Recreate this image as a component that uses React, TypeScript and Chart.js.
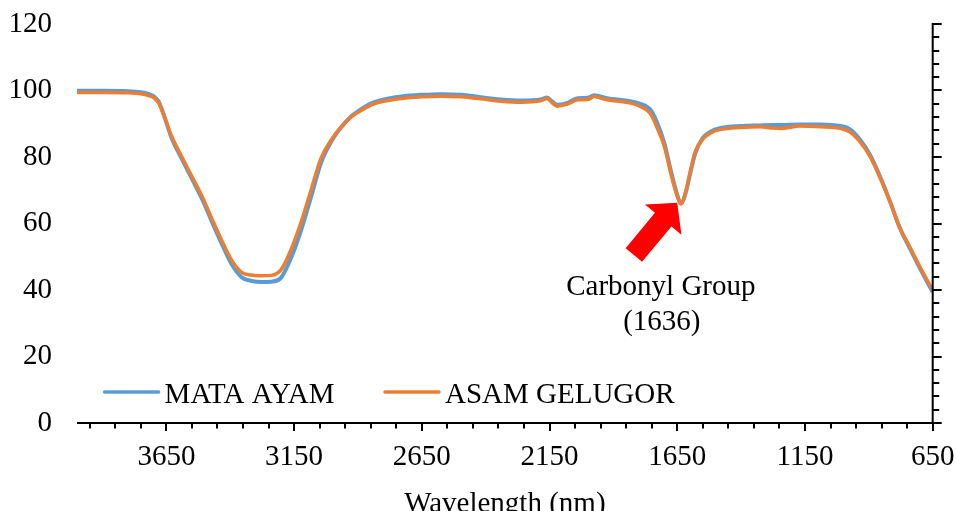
import React, { useEffect, useRef } from "react";
import { Chart, registerables } from "chart.js";

Chart.register(...registerables);

// Wavenumber positions of the read-off samples
const wavenumbers = [
  4000, 3900, 3800, 3750, 3720, 3700, 3680, 3655, 3630, 3590, 3550, 3510, 3470, 3435, 3395, 3355,
  3320, 3280, 3240, 3200, 3160, 3120, 3080, 3045, 3005, 2965, 2925, 2885, 2850, 2810, 2730, 2650,
  2575, 2495, 2420, 2340, 2260, 2185, 2160, 2140, 2120, 2080, 2040, 2000, 1975, 1925, 1845, 1795,
  1755, 1730, 1700, 1675, 1650, 1636, 1618, 1598, 1580, 1552, 1520, 1480, 1400, 1325, 1275, 1245,
  1170, 1090, 1010, 975, 935, 895, 855, 815, 780, 740, 700, 650,
];

const mataAyam = [
  99.9, 99.9, 99.8, 99.5, 99.0, 98.3, 96.6, 91.5, 85.8, 79.5, 73.4, 67.3, 60.2, 54.2, 47.8, 43.8,
  42.8, 42.4, 42.5, 43.8, 50.0, 58.6, 69.0, 78.2, 84.6, 89.0, 92.3, 94.5, 96.1, 97.1, 98.2, 98.7,
  98.9, 98.7, 98.0, 97.3, 97.0, 97.3, 97.9, 96.7, 95.7, 96.3, 97.7, 97.8, 98.6, 97.7, 96.9, 96.0,
  94.2, 90.5, 84.0, 75.8, 68.6, 66.0, 69.0, 75.5, 81.0, 85.5, 87.6, 88.7, 89.3, 89.5, 89.6, 89.6,
  89.8, 89.8, 89.3, 88.4, 85.3, 80.6, 73.9, 66.2, 58.9, 52.6, 46.5, 39.4,
];

const asamGelugor = [
  99.4, 99.4, 99.3, 99.0, 98.5, 97.9, 96.2, 91.5, 86.3, 80.1, 74.1, 68.1, 61.1, 55.2, 49.0, 45.3,
  44.5, 44.3, 44.4, 46.2, 52.5, 61.0, 71.0, 79.6, 85.1, 89.1, 92.1, 94.1, 95.6, 96.6, 97.6, 98.1,
  98.3, 98.1, 97.5, 96.8, 96.5, 96.9, 97.6, 96.3, 95.3, 95.9, 97.2, 97.3, 98.2, 97.2, 96.4, 95.2,
  93.0, 89.0, 83.0, 75.0, 68.2, 65.9, 69.2, 76.0, 81.5, 85.2, 87.2, 88.3, 88.9, 89.1, 88.7, 88.6,
  89.3, 89.1, 88.6, 87.6, 84.6, 80.1, 73.6, 66.1, 59.0, 53.0, 47.0, 40.0,
];

const seriesNames = ["MATA AYAM", "ASAM GELUGOR"];
const seriesColors = ["#5B9BD5", "#ED7D31"];
const xTickLabels = [650, 1150, 1650, 2150, 2650, 3150, 3650];
const xMinorStep = 100;
const xMin = 650;
const xMax = 4000;
const yMin = 0;
const yMax = 120;
const yStep = 20;
const yMinorStep = 4;
const axisTitle = "Wavelength (nm)";
const annotationLines = ["Carbonyl Group", "(1636)"];
const carbonylPeak = 1636;
const carbonylValue = 65.9;

const FONT = "'Liberation Serif', 'Times New Roman', serif";
const FONT_SIZE = 29;

const decorPlugin = {
  id: "decor",
  afterDraw(chart: any) {
    const ctx = chart.ctx;
    const xs = chart.scales.x;
    const ys = chart.scales.y;
    const area = chart.chartArea;
    ctx.save();
    ctx.strokeStyle = "#000";
    ctx.lineWidth = 2;
    // x axis line
    ctx.beginPath();
    ctx.moveTo(area.left, area.bottom);
    ctx.lineTo(area.right + 1, area.bottom);
    ctx.stroke();
    // right axis line
    ctx.beginPath();
    ctx.moveTo(area.right, area.top - 1);
    ctx.lineTo(area.right, area.bottom);
    ctx.stroke();
    // x ticks (major + minor)
    for (let v = xMin; v < xMax; v += xMinorStep) {
      const px = Math.round(xs.getPixelForValue(v));
      const major = (v - xMin) % 500 === 0;
      ctx.beginPath();
      ctx.moveTo(px, area.bottom);
      ctx.lineTo(px, area.bottom + (major ? 8 : 5.5));
      ctx.stroke();
    }
    // right axis ticks
    for (let v = yMin; v <= yMax; v += yMinorStep) {
      const py = Math.round(ys.getPixelForValue(v));
      const major = v % yStep === 0;
      ctx.beginPath();
      ctx.moveTo(area.right, py);
      ctx.lineTo(area.right + (major ? 9 : 6.5), py);
      ctx.stroke();
    }
    // axis title
    ctx.fillStyle = "#000";
    ctx.font = `${FONT_SIZE}px ${FONT}`;
    ctx.textAlign = "center";
    ctx.textBaseline = "alphabetic";
    ctx.fillText(axisTitle, (area.left + area.right) / 2, 512);

    // legend (inside plot, lower left)
    const legY = 392;
    const legItems = [
      { x: 104.6, text: seriesNames[0], color: seriesColors[0] },
      { x: 385, text: seriesNames[1], color: seriesColors[1] },
    ];
    ctx.lineCap = "round";
    for (const it of legItems) {
      ctx.strokeStyle = it.color;
      ctx.lineWidth = 3.5;
      ctx.beginPath();
      ctx.moveTo(it.x, legY);
      ctx.lineTo(it.x + 54, legY);
      ctx.stroke();
      ctx.fillStyle = "#000";
      ctx.textAlign = "left";
      ctx.textBaseline = "alphabetic";
      ctx.fillText(it.text, it.x + 60, 402.5);
    }

    // annotation arrow anchored to the carbonyl peak
    const peakX = xs.getPixelForValue(carbonylPeak);
    const peakY = ys.getPixelForValue(carbonylValue);
    const tx = peakX - 3.6;
    const ty = peakY - 1.2;
    const ux = 0.638, uy = -0.769;
    const nx = 0.769, ny = 0.638;
    const cx = tx - 22 * ux, cy = ty - 22 * uy;
    const hw = 23.7, sw = 10.7, sl = 46;
    const ex = cx - sl * ux, ey = cy - sl * uy;
    ctx.fillStyle = "#FF0000";
    ctx.beginPath();
    ctx.moveTo(tx, ty);
    ctx.lineTo(cx + hw * nx, cy + hw * ny);
    ctx.lineTo(cx + sw * nx, cy + sw * ny);
    ctx.lineTo(ex + sw * nx, ey + sw * ny);
    ctx.lineTo(ex - sw * nx, ey - sw * ny);
    ctx.lineTo(cx - sw * nx, cy - sw * ny);
    ctx.lineTo(cx - hw * nx, cy - hw * ny);
    ctx.closePath();
    ctx.fill();

    ctx.fillStyle = "#000";
    ctx.textAlign = "center";
    ctx.textBaseline = "alphabetic";
    ctx.fillText(annotationLines[0], peakX - 20, 295);
    ctx.fillText(annotationLines[1], peakX - 19, 330);
    ctx.restore();
  },
};

export default function App() {
  const ref = useRef<HTMLCanvasElement | null>(null);
  useEffect(() => {
    if (!ref.current) return;
    const mk = (vals: number[]) => wavenumbers.map((x, i) => ({ x, y: vals[i] }));
    const chart = new Chart(ref.current, {
      type: "line",
      data: {
        datasets: [
          {
            label: seriesNames[0],
            data: mk(mataAyam),
            borderColor: seriesColors[0],
            borderWidth: 4,
            pointRadius: 0,
            cubicInterpolationMode: "monotone",
            order: 2,
          },
          {
            label: seriesNames[1],
            data: mk(asamGelugor),
            borderColor: seriesColors[1],
            borderWidth: 3.5,
            pointRadius: 0,
            cubicInterpolationMode: "monotone",
            order: 1,
          },
        ],
      },
      options: {
        responsive: false,
        animation: false,
        layout: { padding: { top: 24, right: 23.3, left: 0, bottom: 0 } },
        plugins: { legend: { display: false }, tooltip: { enabled: false } },
        scales: {
          x: {
            type: "linear",
            reverse: true,
            min: xMin,
            max: xMax,
            grid: { display: false, drawTicks: false },
            border: { display: false },
            afterBuildTicks: (s: any) => {
              s.ticks = xTickLabels.map((v) => ({ value: v }));
            },
            afterFit: (s: any) => {
              s.height = 88;
            },
            ticks: {
              autoSkip: false,
              maxRotation: 0,
              minRotation: 0,
              padding: 17,
              color: "#000",
              font: { family: FONT, size: FONT_SIZE },
              callback: (v: any) => String(v),
            },
          },
          y: {
            min: yMin,
            max: yMax,
            grid: { display: false, drawTicks: true, tickLength: 25 },
            border: { display: false },
            afterFit: (s: any) => {
              s.width = 77;
            },
            ticks: {
              stepSize: yStep,
              padding: 0,
              color: "#000",
              font: { family: FONT, size: FONT_SIZE },
            },
          },
        },
      },
      plugins: [decorPlugin],
    } as any);
    return () => chart.destroy();
  }, []);
  return (
    <div style={{ position: "absolute", left: 0, top: 0, width: 956, height: 511, background: "#fff" }}>
      <canvas ref={ref} width={956} height={511} style={{ display: "block" }} />
    </div>
  );
}
